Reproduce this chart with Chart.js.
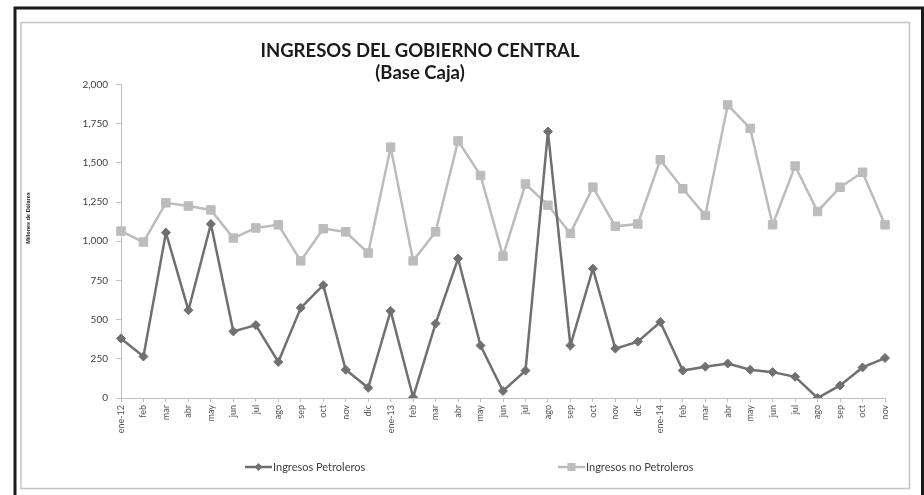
<!DOCTYPE html>
<html>
<head>
<meta charset="utf-8">
<script src="https://cdn.jsdelivr.net/npm/chart.js@4.4.0/dist/chart.umd.min.js"></script>
<style>
html,body{margin:0;padding:0;background:#fff;}
#wrap{position:relative;width:924px;height:495px;}
canvas{display:block;}
</style>
</head>
<body>
<div id="wrap"><canvas id="c" width="924" height="495"></canvas></div>
<script>
const categories = ['ene-12','feb','mar','abr','may','jun','jul','ago','sep','oct','nov','dic',
  'ene-13','feb','mar','abr','may','jun','jul','ago','sep','oct','nov','dic',
  'ene-14','feb','mar','abr','may','jun','jul','ago','sep','oct','nov'];
const petroleros = [380,265,1055,560,1110,425,465,230,575,720,180,65,
  555,5,475,890,335,45,175,1700,335,825,315,360,
  485,175,200,220,180,165,135,0,80,195,255];
const noPetroleros = [1065,995,1245,1225,1200,1020,1085,1105,875,1080,1060,925,
  1600,875,1060,1640,1420,905,1365,1230,1050,1345,1095,1110,
  1520,1335,1165,1870,1720,1105,1480,1190,1345,1440,1105];
const yTicks = [0,250,500,750,1000,1250,1500,1750,2000];
const titleLines = ['INGRESOS DEL GOBIERNO CENTRAL','(Base Caja)'];
const yTitle = 'Millones de Dólares';
const seriesNames = ['Ingresos Petroleros','Ingresos no Petroleros'];

const darkC = '#707070';
const lightC = '#bcbcbc';

const decor = {
  id:'decor',
  beforeDraw(chart){
    const ctx = chart.ctx;
    ctx.save();
    ctx.fillStyle='#fff';
    ctx.fillRect(0,0,chart.width,chart.height);
    ctx.strokeStyle='#1a1a1a';
    ctx.lineWidth=3;
    ctx.strokeRect(15,8,907.5,500);
    ctx.strokeStyle='#c4c4c4';
    ctx.lineWidth=1.5;
    ctx.strokeRect(21,22.5,888.5,466);
    ctx.restore();
  },
  afterDraw(chart){
    const ctx = chart.ctx;
    ctx.save();
    ctx.fillStyle='#1a1a1a';
    ctx.textAlign='center';
    ctx.textBaseline='middle';
    ctx.font='bold 18.5px Lato';
    ctx.fillText(titleLines[0],420,51);
    ctx.fillText(titleLines[1],420,73);
    ctx.save();
    ctx.translate(28,218);
    ctx.rotate(-Math.PI/2);
    ctx.font='bold 5.5px "Liberation Sans"';
    ctx.fillStyle='#222';
    ctx.fillText(yTitle,0,0);
    ctx.restore();
    const items=[{x:245,c:darkC,s:'rectRot',t:seriesNames[0]},{x:558,c:lightC,s:'rect',t:seriesNames[1]}];
    const ly=467;
    items.forEach(it=>{
      ctx.strokeStyle=it.c;ctx.lineWidth=2.5;
      ctx.beginPath();ctx.moveTo(it.x,ly);ctx.lineTo(it.x+27,ly);ctx.stroke();
      ctx.fillStyle=it.c;
      if(it.s==='rect'){ctx.fillRect(it.x+13.5-4,ly-4,8,8);}
      else{ctx.beginPath();ctx.moveTo(it.x+13.5,ly-4);ctx.lineTo(it.x+17.5,ly);ctx.lineTo(it.x+13.5,ly+4);ctx.lineTo(it.x+9.5,ly);ctx.closePath();ctx.fill();}
      ctx.fillStyle='#404040';
      ctx.textAlign='left';
      ctx.font='11px Lato';
      ctx.fillText(it.t,it.x+28,ly);
    });
    ctx.restore();
  }
};

new Chart(document.getElementById('c'),{
  type:'line',
  data:{
    labels:categories,
    datasets:[
      {label:seriesNames[0],data:petroleros,borderColor:darkC,backgroundColor:darkC,borderWidth:2.5,
       pointStyle:'rectRot',pointRadius:4.5,pointBorderWidth:1,pointBorderColor:darkC,pointBackgroundColor:darkC,tension:0},
      {label:seriesNames[1],data:noPetroleros,borderColor:lightC,backgroundColor:lightC,borderWidth:2.5,
       pointStyle:'rect',pointRadius:6,pointBorderWidth:1,pointBorderColor:lightC,pointBackgroundColor:lightC,tension:0}
    ]
  },
  options:{
    responsive:false,
    animation:false,
    events:[],
    layout:{padding:{left:0,right:39,top:84.5,bottom:47}},
    plugins:{legend:{display:false},title:{display:false},tooltip:{enabled:false}},
    scales:{
      x:{
        offset:false,
        grid:{drawOnChartArea:false,drawTicks:true,tickLength:4,color:'#bfbfbf',lineWidth:1},
        border:{color:'#bfbfbf',width:1},
        ticks:{autoSkip:false,maxRotation:90,minRotation:90,padding:3,color:'#555',font:{family:'Lato',size:9}},
        afterFit(s){s.height=50;}
      },
      y:{
        min:0,max:2000,
        afterBuildTicks(s){s.ticks=yTicks.map(v=>({value:v}));},
        grid:{drawOnChartArea:false,drawTicks:true,tickLength:5,color:'#bfbfbf',lineWidth:1},
        border:{color:'#bfbfbf',width:1},
        ticks:{padding:8,color:'#404040',font:{family:'Lato',size:10},callback:v=>v.toLocaleString('en-US')},
        afterFit(s){s.width=121;}
      }
    }
  },
  plugins:[decor]
});
</script>
</body>
</html>
